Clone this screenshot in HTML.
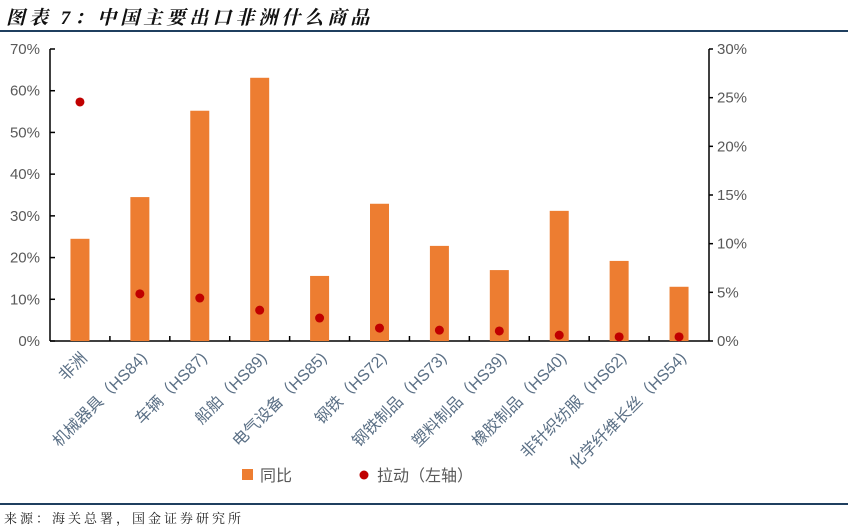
<!DOCTYPE html>
<html><head><meta charset="utf-8"><style>
body{margin:0;background:#fff;width:848px;height:532px;overflow:hidden;font-family:"Liberation Sans","Noto Sans CJK SC",sans-serif}
#title{position:absolute;left:6px;top:3px;font-family:"Liberation Serif","Noto Serif CJK SC",serif;font-style:italic;font-weight:bold;font-size:19px;color:#111;letter-spacing:4px}
#src{position:absolute;left:4px;top:508px;font-family:"Liberation Serif","Noto Serif CJK SC",serif;font-size:13px;color:#222;letter-spacing:3px}
.hr{position:absolute;left:0;width:848px;height:1.5px;background:#1f3f5f}
</style></head><body>
<div id="title">图表 7：中国主要出口非洲什么商品</div>
<div class="hr" style="top:30px"></div>
<div class="hr" style="top:503px"></div>
<div id="src">来源：海关总署，国金证券研究所</div>
<svg id="c" width="848" height="532" style="position:absolute;left:0;top:0"></svg>
<script>
const categories=["非洲","机械器具（HS84)","车辆（HS87)","船舶（HS89)","电气设备（HS85)","钢铁（HS72)","钢铁制品（HS73)","塑料制品（HS39)","橡胶制品（HS40)","非针织纺服（HS62)","化学纤维长丝（HS54)"];
const yoy=[24.5,34.5,55.2,63.1,15.6,32.9,22.8,17.0,31.2,19.2,13.0];
const pull=[57.3,11.3,10.3,7.4,5.5,3.1,2.6,2.4,1.4,1.0,1.0];
const leftTicks=[0,10,20,30,40,50,60,70];
const rightTicks=[0,5,10,15,20,25,30];
const NS="http://www.w3.org/2000/svg";
const svg=document.getElementById('c');
const X0=50,X1=709,Y0=341,Y1=49;
const band=(X1-X0)/categories.length;
const xc=i=>X0+band*(i+0.5);
const yL=v=>Y0-(v/70)*(Y0-Y1);
const yR=v=>Y0-(v/30)*(Y0-Y1);
function mk(t,a,p){const e=document.createElementNS(NS,t);for(const k in a)e.setAttribute(k,a[k]);(p||svg).appendChild(e);return e;}
let e=mk('line',{x1:X0,y1:Y1,x2:X0,y2:Y0,stroke:'#000','stroke-width':1.5});

e=mk('line',{x1:X1,y1:Y1,x2:X1,y2:Y0,stroke:'#000','stroke-width':1.5});

e=mk('line',{x1:X0,y1:Y0,x2:X1,y2:Y0,stroke:'#000','stroke-width':1.5});

leftTicks.forEach(v=>{
 mk('line',{x1:X0,x2:X0+5,y1:yL(v),y2:yL(v),stroke:'#000','stroke-width':1.5});
 const t=mk('text',{x:X0-10,y:yL(v)+5,'text-anchor':'end','font-size':15,fill:'#595959'});t.textContent=v+'%';
 
});
rightTicks.forEach(v=>{
 mk('line',{x1:X1,x2:X1+4,y1:yR(v),y2:yR(v),stroke:'#000','stroke-width':1.5});
 const t=mk('text',{x:X1+8,y:yR(v)+5,'font-size':15,fill:'#595959'});t.textContent=v+'%';
 
});
for(let i=1;i<categories.length;i++){const x=X0+band*i;mk('line',{x1:x,x2:x,y1:Y0-5,y2:Y0,stroke:'#000','stroke-width':1.5});}
categories.forEach((c,i)=>{
 const r=mk('rect',{x:xc(i)-9.5,y:yL(yoy[i]),width:19,height:Y0-yL(yoy[i]),fill:'#ED7D31'});
 
 const d=mk('circle',{cx:xc(i),cy:yL(pull[i]),r:4.5,fill:'#C00000'});
 
 const tx=xc(i)+8,ty=Y0+18;
 const t=mk('text',{x:tx,y:ty,'text-anchor':'end','font-size':16,fill:'#5a6f85',transform:`rotate(-45 ${tx} ${ty})`});
 t.textContent=c;
});
let g=mk('g',{});
mk('rect',{x:242,y:469,width:11,height:11,fill:'#ED7D31'},g);
let lt=mk('text',{x:260,y:481,'font-size':16,fill:'#595959'},g);lt.textContent='同比';
g=mk('g',{});
mk('circle',{cx:364,cy:475,r:4.5,fill:'#C00000'},g);
lt=mk('text',{x:377,y:481,'font-size':16,fill:'#595959'},g);lt.textContent='拉动（左轴）';
</script>
</body></html>
